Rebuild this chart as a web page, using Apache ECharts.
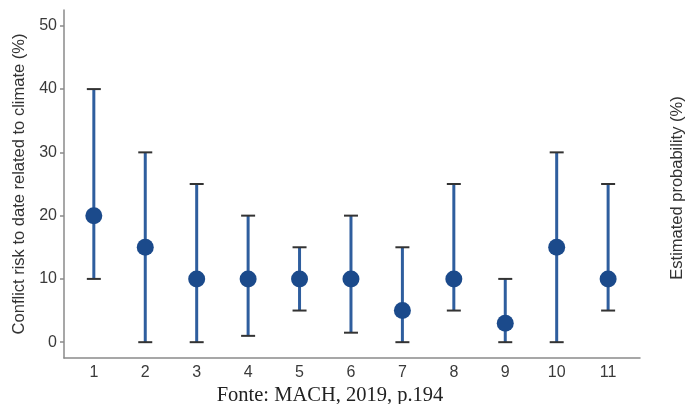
<!DOCTYPE html>
<html><head><meta charset="utf-8">
<script src="https://cdn.jsdelivr.net/npm/echarts@6/dist/echarts.min.js"></script>
<style>html,body{margin:0;padding:0;background:#fff}#c{width:690px;height:404px}</style>
</head><body><div id="c"></div>
<script>
var categories = [1, 2, 3, 4, 5, 6, 7, 8, 9, 10, 11];
var estimate = [20, 15, 10, 10, 10, 10, 5, 10, 3, 15, 10];
var lower = [10, 0, 0, 1, 5, 1.5, 0, 5, 0, 0, 5];
var upper = [40, 30, 25, 20, 15, 20, 15, 25, 10, 30, 25];
var yTicks = [0, 10, 20, 30, 40, 50];

var chart = echarts.init(document.getElementById('c'), null, {renderer: 'canvas'});
var errData = categories.map(function (c, i) { return [c, lower[i], upper[i]]; });
var ptData = categories.map(function (c, i) { return [c, estimate[i]]; });
var font = '"Liberation Sans", Arial, sans-serif';

chart.setOption({
  animation: false,
  grid: {left: 64, right: 50, top: 10, bottom: 46},
  xAxis: {
    type: 'value', min: 0.42, max: 11.62,
    axisLine: {show: true, onZero: false, lineStyle: {color: '#8a8a8a', width: 1.5}},
    axisTick: {show: false},
    splitLine: {show: false},
    axisLabel: {customValues: categories, color: '#3a3a3a', fontSize: 16, fontFamily: font, margin: 7}
  },
  yAxis: {
    type: 'value', min: -2.5, max: 52.5,
    name: 'Conflict risk to date related to climate (%)',
    nameLocation: 'middle', nameGap: 35, nameRotate: 90,
    nameTextStyle: {color: '#333', fontSize: 16.5, fontFamily: font},
    axisLine: {show: true, onZero: false, lineStyle: {color: '#8a8a8a', width: 1.5}},
    axisTick: {show: true, customValues: yTicks, length: 4, lineStyle: {color: '#8a8a8a', width: 1.5}},
    splitLine: {show: false},
    axisLabel: {customValues: yTicks, color: '#3a3a3a', fontSize: 16, fontFamily: font, margin: 7}
  },
  graphic: [
    {type: 'text', x: 677, y: 188, rotation: Math.PI / 2,
     style: {text: 'Estimated probability (%)', fill: '#333', font: '16.5px ' + font, align: 'center', verticalAlign: 'middle'}},
    {type: 'text', x: 330, y: 396,
     style: {text: 'Fonte: MACH, 2019, p.194', fill: '#222', font: '20.5px "Liberation Serif", "Times New Roman", serif', align: 'center', verticalAlign: 'middle'}}
  ],
  series: [
    {
      type: 'custom',
      data: errData,
      renderItem: function (params, api) {
        var x = api.value(0);
        var lo = api.coord([x, api.value(1)]);
        var hi = api.coord([x, api.value(2)]);
        var hw = 7;
        return {
          type: 'group',
          children: [
            {type: 'line', shape: {x1: lo[0], y1: lo[1], x2: hi[0], y2: hi[1]},
             style: {stroke: '#2f5e9e', lineWidth: 3}},
            {type: 'line', shape: {x1: lo[0] - hw, y1: lo[1], x2: lo[0] + hw, y2: lo[1]},
             style: {stroke: '#333', lineWidth: 2}},
            {type: 'line', shape: {x1: hi[0] - hw, y1: hi[1], x2: hi[0] + hw, y2: hi[1]},
             style: {stroke: '#333', lineWidth: 2}}
          ]
        };
      },
      z: 2
    },
    {
      type: 'scatter',
      data: ptData,
      symbol: 'circle',
      symbolSize: 17,
      itemStyle: {color: '#1b4a8b', opacity: 1},
      z: 3
    }
  ]
});
</script>
</body></html>
